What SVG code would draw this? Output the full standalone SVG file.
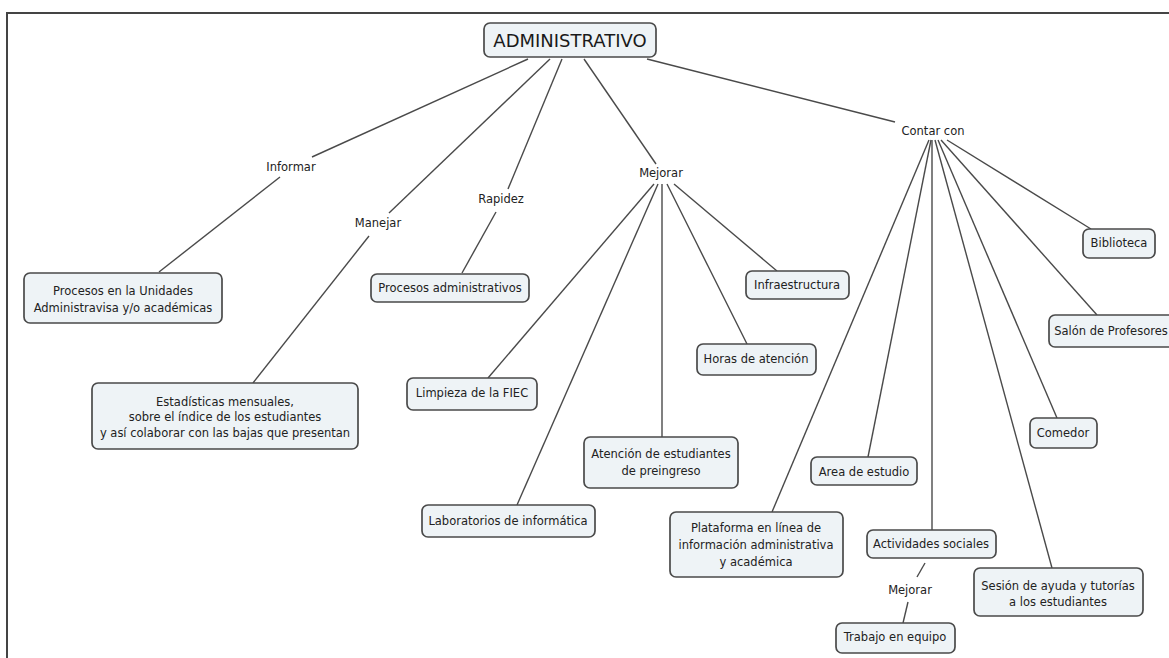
<svg xmlns="http://www.w3.org/2000/svg" width="1169" height="658" viewBox="0 0 1169 658">
<style>
.frame{stroke:#444;stroke-width:2;fill:none}
.c line{stroke:#4a4a4a;stroke-width:1.4}
.n rect{fill:#eef3f6;stroke:#4a4a4a;stroke-width:1.7}
text{font-family:"DejaVu Sans",Verdana,sans-serif;font-size:11.5px;fill:#222;text-anchor:middle}
.root{font-size:18px;fill:#1a1a1a}
</style>
<rect width="1169" height="658" fill="#fff"/>
<path class="frame" d="M7,658 V13 H1169"/>
<g id="connectors" class="c">
<line x1="528" y1="59" x2="312" y2="157"/>
<line x1="280" y1="177" x2="159" y2="272"/>
<line x1="550" y1="59" x2="389" y2="213"/>
<line x1="369" y1="236" x2="253" y2="383"/>
<line x1="562" y1="59" x2="508" y2="189"/>
<line x1="496" y1="212" x2="462" y2="273"/>
<line x1="584" y1="59" x2="656" y2="164"/>
<line x1="654" y1="184" x2="488" y2="378"/>
<line x1="658" y1="184" x2="517" y2="505"/>
<line x1="662" y1="184" x2="662" y2="437"/>
<line x1="667" y1="184" x2="747" y2="344"/>
<line x1="674" y1="184" x2="777" y2="271"/>
<line x1="647" y1="59" x2="895" y2="122"/>
<line x1="929" y1="140" x2="772" y2="512"/>
<line x1="931" y1="140" x2="868" y2="457"/>
<line x1="932" y1="140" x2="932" y2="530"/>
<line x1="935" y1="140" x2="1052" y2="568"/>
<line x1="938" y1="140" x2="1057" y2="418"/>
<line x1="941" y1="140" x2="1097" y2="315"/>
<line x1="947" y1="140" x2="1091" y2="229"/>
<line x1="925" y1="563" x2="917" y2="577"/>
<line x1="908" y1="602" x2="903" y2="623"/>
</g>
<g id="labels">
<text x="291" y="171">Informar</text>
<text x="378" y="227">Manejar</text>
<text x="501" y="203">Rapidez</text>
<text x="661" y="177">Mejorar</text>
<text x="933" y="135">Contar con</text>
<text x="910" y="594">Mejorar</text>
</g>
<g id="n-root" class="n"><rect x="484" y="23" width="172" height="34" rx="6"/><text class="root" x="570" y="47">ADMINISTRATIVO</text></g>
<g id="n-unidades" class="n"><rect x="24" y="273" width="198" height="50" rx="6"/><text x="123" y="295">Procesos en la Unidades</text><text x="123" y="312">Administravisa y/o académicas</text></g>
<g id="n-estadisticas" class="n"><rect x="92" y="383" width="266" height="66" rx="6"/><text x="225" y="406">Estadísticas mensuales,</text><text x="225" y="421">sobre el índice de los estudiantes</text><text x="225" y="437">y así colaborar con las bajas que presentan</text></g>
<g id="n-procadm" class="n"><rect x="371" y="274" width="158" height="28" rx="6"/><text x="450" y="292">Procesos administrativos</text></g>
<g id="n-limpieza" class="n"><rect x="407" y="378" width="130" height="32" rx="6"/><text x="472" y="397">Limpieza de la FIEC</text></g>
<g id="n-infra" class="n"><rect x="746" y="271" width="103" height="28" rx="6"/><text x="797" y="289">Infraestructura</text></g>
<g id="n-horas" class="n"><rect x="697" y="344" width="119" height="31" rx="6"/><text x="756" y="363">Horas de atención</text></g>
<g id="n-atencion" class="n"><rect x="584" y="437" width="154" height="51" rx="6"/><text x="661" y="458">Atención de estudiantes</text><text x="661" y="475">de preingreso</text></g>
<g id="n-labs" class="n"><rect x="422" y="505" width="173" height="32" rx="6"/><text x="508" y="525">Laboratorios de informática</text></g>
<g id="n-plataforma" class="n"><rect x="670" y="512" width="173" height="65" rx="6"/><text x="756" y="532">Plataforma en línea de</text><text x="756" y="549">información administrativa</text><text x="756" y="566">y académica</text></g>
<g id="n-area" class="n"><rect x="811" y="457" width="106" height="28" rx="6"/><text x="864" y="476">Area de estudio</text></g>
<g id="n-actividades" class="n"><rect x="867" y="530" width="129" height="28" rx="6"/><text x="931" y="548">Actividades sociales</text></g>
<g id="n-trabajo" class="n"><rect x="836" y="623" width="119" height="30" rx="6"/><text x="895" y="641">Trabajo en equipo</text></g>
<g id="n-sesion" class="n"><rect x="974" y="568" width="169" height="48" rx="6"/><text x="1058" y="590">Sesión de ayuda y tutorías</text><text x="1058" y="606">a los estudiantes</text></g>
<g id="n-comedor" class="n"><rect x="1030" y="418" width="67" height="30" rx="6"/><text x="1063" y="437">Comedor</text></g>
<g id="n-salon" class="n"><rect x="1049" y="315" width="132" height="32" rx="6"/><text x="1111" y="335">Salón de Profesores</text></g>
<g id="n-biblioteca" class="n"><rect x="1083" y="229" width="72" height="29" rx="6"/><text x="1119" y="247">Biblioteca</text></g>
</svg>
